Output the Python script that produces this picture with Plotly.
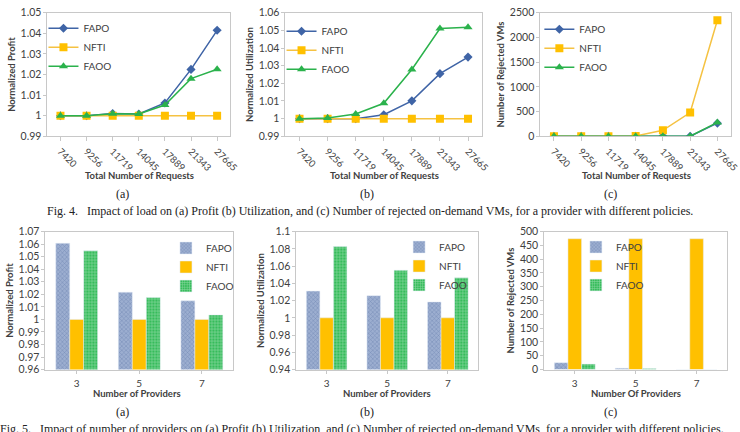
import plotly.graph_objects as go

W, H = 740, 432

# ---------------- data ----------------
requests = ["7420", "9256", "11719", "14045", "17889", "21343", "27665"]
profit_fapo = [1.0, 1.0, 1.0011, 1.0008, 1.0062, 1.0225, 1.0415]
profit_nfti = [1.0, 1.0, 1.0, 1.0, 1.0, 1.0, 1.0]
profit_faoo = [1.0, 1.0, 1.0009, 1.0008, 1.0052, 1.0180, 1.0226]

util_fapo = [1.0, 1.0, 1.0, 1.0022, 1.0101, 1.0255, 1.0349]
util_nfti = [1.0, 1.0, 1.0, 1.0, 1.0, 1.0, 1.0]
util_faoo = [1.0, 1.0003, 1.0026, 1.0087, 1.0279, 1.0511, 1.0518]

rej_fapo = [0, 0, 0, 0, 0, 0, 265]
rej_nfti = [0, 0, 0, 8, 120, 481, 2348]
rej_faoo = [0, 0, 0, 0, 0, 0, 280]

providers = ["3", "5", "7"]
bprofit_fapo = [1.0607, 1.0217, 1.0148]
bprofit_nfti = [1.0, 1.0, 1.0]
bprofit_faoo = [1.0547, 1.0175, 1.0036]

butil_fapo = [1.031, 1.0257, 1.0185]
butil_nfti = [1.0, 1.0, 1.0]
butil_faoo = [1.0826, 1.0551, 1.0464]

brej_fapo = [25, 5, 0]
brej_nfti = [474, 474, 474]
brej_faoo = [20, 4, 0]

series_names = ["FAPO", "NFTI", "FAOO"]

# ---------------- styles ----------------
C_FAPO = "#3F64A6"
C_NFTI = "#FFC000"
C_NFTI_LINE = "#F5C242"
C_FAOO = "#2BB24C"
FONT = "Lato"
TXT = "#404040"
SERIF = "Liberation Serif"


def px_x(p):
    return p / W


def px_y(p):
    return 1 - p / H


def dom_x(a, b):
    return [px_x(a), px_x(b)]


def dom_y(top, bottom):
    return [px_y(bottom), px_y(top)]


fig = go.Figure()

panels = [
    (dom_x(48, 233), dom_y(7, 134)),
    (dom_x(289, 488), dom_y(7, 134)),
    (dom_x(547, 740), dom_y(7, 134)),
    (dom_x(46, 236), dom_y(232, 374)),
    (dom_x(300, 484), dom_y(232, 374)),
    (dom_x(551, 736), dom_y(232, 374)),
]

line_data = [
    (requests, [profit_fapo, profit_nfti, profit_faoo]),
    (requests, [util_fapo, util_nfti, util_faoo]),
    (requests, [rej_fapo, rej_nfti, rej_faoo]),
]
bar_data = [
    (providers, [bprofit_fapo, bprofit_nfti, bprofit_faoo]),
    (providers, [butil_fapo, butil_nfti, butil_faoo]),
    (providers, [brej_fapo, brej_nfti, brej_faoo]),
]

symbols = ["diamond", "square", "triangle-up"]
msizes = [7, 8, 8]
mcolors = [C_FAPO, C_NFTI, C_FAOO]
lcolors = [C_FAPO, C_NFTI_LINE, C_FAOO]

for i, (cats, ys) in enumerate(line_data):
    ax = "" if i == 0 else str(i + 1)
    for j, name in enumerate(series_names):
        fig.add_trace(go.Scatter(
            x=cats, y=ys[j], name=name, mode="lines+markers",
            line=dict(color=lcolors[j], width=1.5),
            marker=dict(symbol=symbols[j], size=msizes[j], color=mcolors[j]),
            xaxis="x" + ax, yaxis="y" + ax,
            legend="legend" + ("" if i == 0 else str(i + 1)),
        ))

bar_markers = [
    dict(color="#8EA2C6", pattern=dict(shape="x", fgcolor="#4F689B", bgcolor="#9CAED0", size=3, solidity=0.3)),
    dict(color=C_NFTI),
    dict(color="#36BC5B", pattern=dict(shape="+", fgcolor="#E3F7E8", bgcolor="#36BC5B", size=3, solidity=0.35)),
]

for i, (cats, ys) in enumerate(bar_data):
    k = i + 4
    for j, name in enumerate(series_names):
        fig.add_trace(go.Bar(
            x=cats, y=ys[j], name=name, marker=bar_markers[j],
            xaxis="x%d" % k, yaxis="y%d" % k, legend="legend%d" % k,
        ))

y_ranges = [[0.99, 1.05], [0.99, 1.06], [0, 2500], [0.96, 1.07], [0.94, 1.1], [0, 500]]
y_dticks = [0.01, 0.01, 500, 0.01, 0.02, 50]
y_titles = ["Normalized Profit", "Normalized Utilization", "Number of Rejected VMs",
            "Normalized Profit", "Normalized Utilization", "Number of Rejected VMs"]
x_titles = ["Total Number of Requests"] * 3 + ["Number of Providers", "Number of Providers", "Number Of Providers"]
x_title_pos = [(141, 174), (389, 174), (644, 174), (139, 399), (392, 399), (644, 399)]
n_cats = [7, 7, 7, 3, 3, 3]

layout = dict(
    width=W, height=H, margin=dict(l=0, r=0, t=0, b=0),
    paper_bgcolor="white", plot_bgcolor="white",
    font=dict(family=FONT, size=10, color=TXT),
    barmode="group", bargap=0.33, bargroupgap=0,
    showlegend=True,
)

for idx, (dx, dy) in enumerate(panels):
    k = "" if idx == 0 else str(idx + 1)
    layout["xaxis" + k] = dict(
        domain=dx, anchor="y" + k, type="category",
        range=[-0.5, n_cats[idx] - 0.5],
        showline=True, linecolor="#C8C8C8", linewidth=1, mirror=True,
        showgrid=False, zeroline=False,
        ticks="outside", ticklen=4 if idx < 3 else 3, tickcolor="#C8C8C8",
        tickangle=45 if idx < 3 else 0,
        ticklabelstandoff=1,
        tickfont=dict(family=FONT, size=9.5 if idx < 3 else 10, color=TXT),
    )
    layout["yaxis" + k] = dict(
        domain=dy, anchor="x" + k, range=y_ranges[idx], dtick=y_dticks[idx],
        tick0=y_ranges[idx][0],
        showline=True, linecolor="#C8C8C8", linewidth=1, mirror=True,
        showgrid=False, zeroline=False,
        ticks="outside", ticklen=3, tickcolor="#C8C8C8",
        tickfont=dict(family=FONT, size=10.5, color=TXT),
        title=dict(text="<b>%s</b>" % y_titles[idx], font=dict(family=FONT, size=9.5, color=TXT),
                   standoff=3),
    )

legend_pos = [(44, 8), (285, 11), (546, 9), (168, 234), (404, 233), (583, 233)]
for idx, (lx, ly) in enumerate(legend_pos):
    k = "legend" + ("" if idx == 0 else str(idx + 1))
    layout[k] = dict(
        x=px_x(lx), y=px_y(ly), xanchor="left", yanchor="top",
        bgcolor="rgba(0,0,0,0)", borderwidth=0,
        font=dict(family=FONT, size=10, color=TXT), itemwidth=30,
    )

anns = []
for t, (x, y) in zip(x_titles, x_title_pos):
    anns.append(dict(text="<b>%s</b>" % t, x=px_x(x), y=px_y(y), xref="paper", yref="paper",
                     xanchor="center", yanchor="middle", showarrow=False,
                     font=dict(family=FONT, size=9.5, color=TXT)))

for lab, x in zip(["(a)", "(b)", "(c)"], [124, 372, 618]):
    for y in [193, 418]:
        anns.append(dict(text=lab, x=px_x(x), y=px_y(y), xref="paper", yref="paper",
                         xanchor="center", yanchor="middle", showarrow=False,
                         font=dict(family=SERIF, size=12, color="#222")))

cap4 = ("Fig. 4.\u00a0\u00a0\u00a0Impact of load on (a) Profit (b) Utilization, and (c) Number of rejected "
        "on-demand VMs, for a provider with different policies.")
cap5 = ("Fig. 5.\u00a0\u00a0\u00a0Impact of number of providers on (a) Profit (b) Utilization, and (c) Number of "
        "rejected on-demand VMs, for a provider with different policies.")
anns.append(dict(text=cap4, x=px_x(375), y=px_y(211), xref="paper", yref="paper", showarrow=False,
                 xanchor="center", yanchor="middle",
                 font=dict(family=SERIF, size=12, color="#222")))
anns.append(dict(text=cap5, x=px_x(-2), y=px_y(426), xref="paper", yref="paper", showarrow=False,
                 xanchor="left", yanchor="top",
                 font=dict(family=SERIF, size=12, color="#222")))
layout["annotations"] = anns

fig.update_layout(**layout)
fig.write_html("out.html")
